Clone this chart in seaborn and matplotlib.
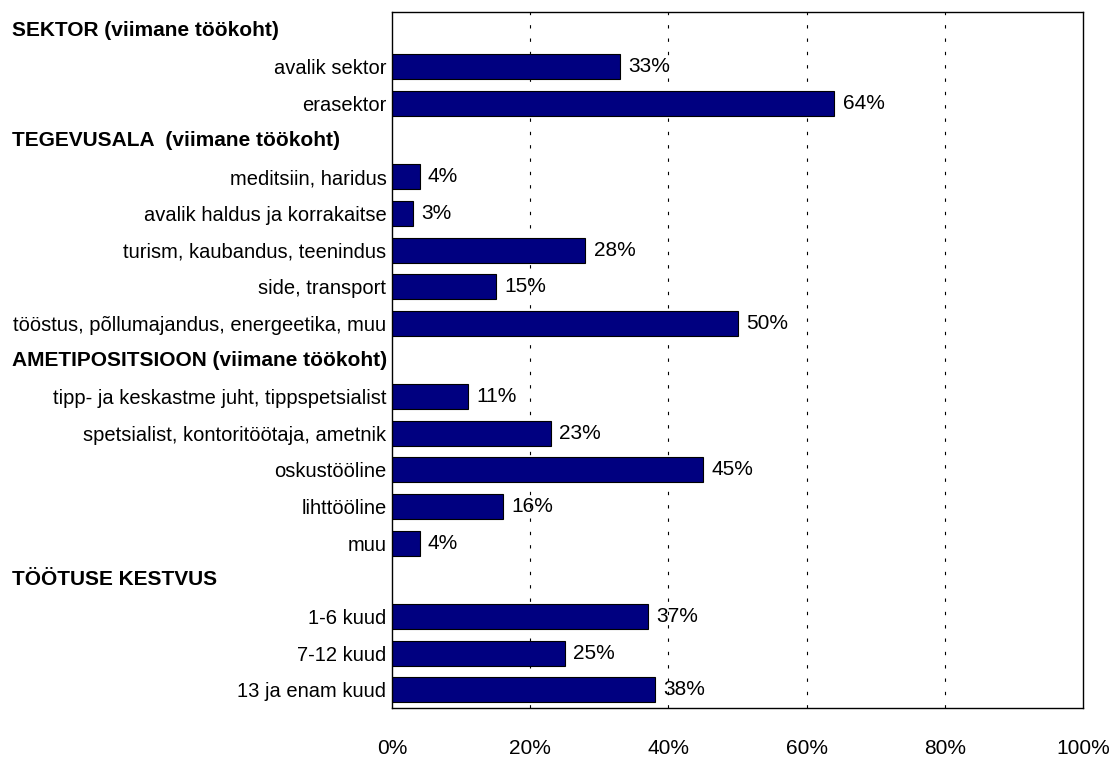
import matplotlib
matplotlib.use("Agg")
import matplotlib.pyplot as plt
import matplotlib.transforms as mtransforms
from matplotlib import font_manager
import seaborn as sns
import pandas as pd

# ---- data ----
rows = [
    "SEKTOR (viimane töökoht)",
    "avalik sektor",
    "erasektor",
    "TEGEVUSALA  (viimane töökoht)",
    "meditsiin, haridus",
    "avalik haldus ja korrakaitse",
    "turism, kaubandus, teenindus",
    "side, transport",
    "tööstus, põllumajandus, energeetika, muu",
    "AMETIPOSITSIOON (viimane töökoht)",
    "tipp- ja keskastme juht, tippspetsialist",
    "spetsialist, kontoritöötaja, ametnik",
    "oskustööline",
    "lihttööline",
    "muu",
    "TÖÖTUSE KESTVUS",
    "1-6 kuud",
    "7-12 kuud",
    "13 ja enam kuud",
]
headers = [
    "SEKTOR (viimane töökoht)",
    "TEGEVUSALA  (viimane töökoht)",
    "AMETIPOSITSIOON (viimane töökoht)",
    "TÖÖTUSE KESTVUS",
]
categories = [r for r in rows if r not in headers]
values = [33, 64, 4, 3, 28, 15, 50, 11, 23, 45, 16, 4, 37, 25, 38]
xticks = [0, 20, 40, 60, 80, 100]
xticklabels = ["0%", "20%", "40%", "60%", "80%", "100%"]

# ---- font ----
names = {f.name for f in font_manager.fontManager.ttflist}
fam = ["Liberation Sans Narrow", "DejaVu Sans"] if "Liberation Sans Narrow" in names else ["Liberation Sans", "DejaVu Sans"]

sns.set_theme(style="white")
plt.rcParams["font.family"] = fam
plt.rcParams["text.color"] = "black"
plt.rcParams["xtick.color"] = "black"
plt.rcParams["ytick.color"] = "black"

df = pd.DataFrame({"label": categories, "value": values})

fig = plt.figure(figsize=(11.12, 7.6), dpi=100)
ax = fig.add_axes([392 / 1112, 1 - 708 / 760, (1083 - 392) / 1112, (708 - 12) / 760])

sns.barplot(data=df, x="value", y="label", order=rows, orient="h",
            color="#000080", saturation=1, width=0.68,
            edgecolor="black", linewidth=0.8, ax=ax)

ax.set_xlim(0, 100)
ax.set_xticks(xticks)
ax.set_xticklabels(xticklabels, fontsize=15, color="black")
ax.set_xlabel("")
ax.set_ylabel("")
ax.tick_params(axis="x", length=0, pad=22, labelcolor="black")
ax.tick_params(axis="y", length=0, pad=4, labelcolor="black")

ylabels = ["" if r in headers else r for r in rows]
ax.set_yticks(range(len(rows)))
ax.set_yticklabels(ylabels, fontsize=14.5, color="black")

for s in ax.spines.values():
    s.set_visible(True)
    s.set_color("black")
    s.set_linewidth(1.0)

for x in xticks[1:-1]:
    ax.axvline(x, color="black", linewidth=0.8, linestyle=(0, (3, 9)), zorder=0)

# headers
trans = mtransforms.blended_transform_factory(fig.transFigure, ax.transData)
for h in headers:
    ax.text(12 / 1112, rows.index(h), h, transform=trans, ha="left", va="center",
            fontsize=15, fontweight="bold", color="black")

# value labels
for cat, v in zip(categories, values):
    ax.annotate(f"{v}%", (v, rows.index(cat)), xytext=(6, 0), textcoords="offset points",
                ha="left", va="center", fontsize=15, color="black")

fig.savefig("out.png", dpi=100)
